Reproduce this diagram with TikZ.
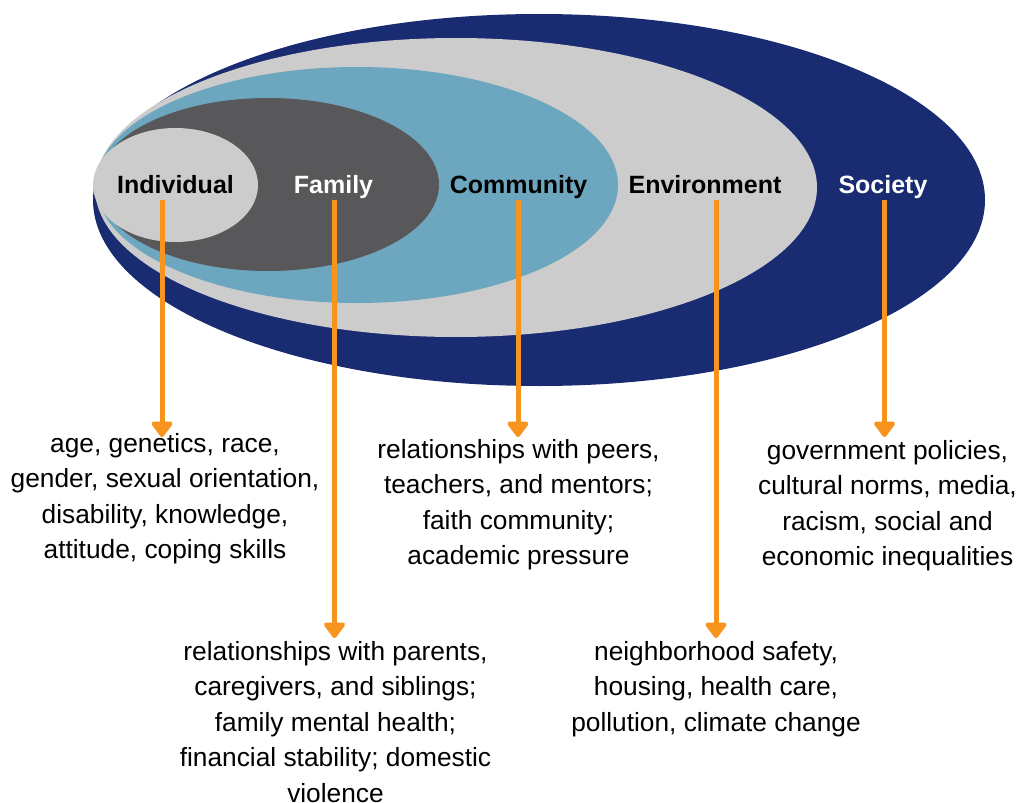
\documentclass[tikz,border=0pt]{standalone}
\usepackage{fontspec}
\setmainfont{Liberation Sans}
\usetikzlibrary{arrows.meta}
\definecolor{socblue}{RGB}{25,43,113}
\definecolor{envgray}{RGB}{204,204,204}
\definecolor{comblue}{RGB}{109,166,191}
\definecolor{famgray}{RGB}{88,88,90}
\definecolor{indgray}{RGB}{204,204,204}
\definecolor{arrorange}{RGB}{247,148,29}
\begin{document}
\begin{tikzpicture}[x=1pt,y=-1pt,
  lbl/.style={inner sep=0pt, anchor=base, font=\fontsize{25}{30}\selectfont\bfseries},
  desc/.style={inner sep=0pt, anchor=north, align=center, font=\fontsize{26.3}{35.5}\selectfont},
  conn/.style={draw=arrorange, line width=5pt, -{Triangle[width=24pt,length=17pt,round]}}]
\useasboundingbox (0,0) rectangle (1021,803);
\fill[white] (0,0) rectangle (1021,803);
% nested ellipses
\fill[socblue] (539,200) ellipse [x radius=446pt, y radius=186pt];
\fill[envgray] (456,187.5) ellipse [x radius=361pt, y radius=149.5pt];
\fill[comblue] (357,185) ellipse [x radius=261pt, y radius=118pt];
\fill[famgray] (268,184.5) ellipse [x radius=171pt, y radius=86.5pt];
\fill[indgray] (175.5,185) ellipse [x radius=82.5pt, y radius=57pt];
% level labels
\node[lbl, text=black] (lInd) at (175.5,193) {Individual};
\node[lbl, text=white] (lFam) at (333.5,193) {Family};
\node[lbl, text=black] (lCom) at (518.5,193) {Community};
\node[lbl, text=black] (lEnv) at (705,193) {Environment};
\node[lbl, text=white] (lSoc) at (883,193) {Society};
% descriptions
\node[desc] (dInd) at (165,432) {\rule{0pt}{20pt}age, genetics, race,\\gender, sexual orientation,\\disability, knowledge,\\attitude, coping skills};
\node[desc] (dCom) at (518.5,438) {\rule{0pt}{20pt}relationships with peers,\\teachers, and mentors;\\faith community;\\academic pressure};
\node[desc] (dSoc) at (887.5,439) {\rule{0pt}{20pt}government policies,\\cultural norms, media,\\racism, social and\\economic inequalities};
\node[desc] (dFam) at (335.5,640) {\rule{0pt}{20pt}relationships with parents,\\caregivers, and siblings;\\family mental health;\\financial stability; domestic\\violence};
\node[desc] (dEnv) at (716,640) {\rule{0pt}{20pt}neighborhood safety,\\housing, health care,\\pollution, climate change};
% connector ends
\coordinate (sInd) at (162,200);   \coordinate (tInd) at (162,437);
\coordinate (sFam) at (334.5,200); \coordinate (tFam) at (334.5,638);
\coordinate (sCom) at (518,200);   \coordinate (tCom) at (518,437);
\coordinate (sEnv) at (716,200);   \coordinate (tEnv) at (716,638);
\coordinate (sSoc) at (884.5,200); \coordinate (tSoc) at (884.5,437);
\draw[conn] (sInd) -- (tInd);
\draw[conn] (sFam) -- (tFam);
\draw[conn] (sCom) -- (tCom);
\draw[conn] (sEnv) -- (tEnv);
\draw[conn] (sSoc) -- (tSoc);
\end{tikzpicture}
\end{document}
